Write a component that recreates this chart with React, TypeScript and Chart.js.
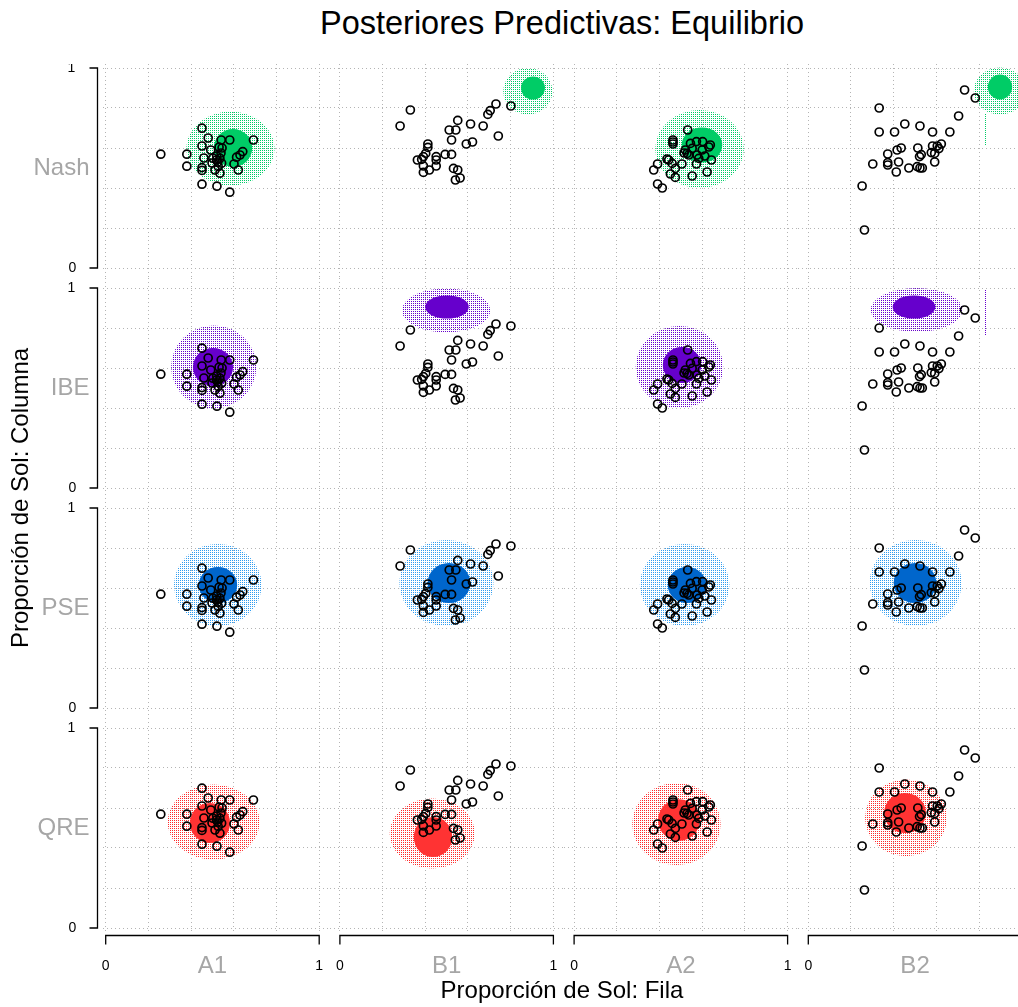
import React, { useEffect, useRef } from "react";
import { Chart, registerables } from "chart.js";

Chart.register(...registerables);

type XY = [number, number];
type Box = [number, number, number, number]; // xmin, xmax, ymin, ymax

const modelNames = ["Nash", "IBE", "PSE", "QRE"];
const gameNames = ["A1", "B1", "A2", "B2"];
const gridValues = [0, 0.2, 0.4, 0.6, 0.8, 1];

// Observed proportions (row player, column player) per game
const observedA1: XY[] = [
  [0.258, 0.569], [0.38, 0.569], [0.38, 0.509], [0.451, 0.699], [0.48, 0.65], [0.451, 0.61],
  [0.451, 0.502], [0.451, 0.488], [0.46, 0.55], [0.451, 0.419], [0.521, 0.409], [0.581, 0.379],
  [0.541, 0.64], [0.581, 0.64], [0.692, 0.64], [0.492, 0.59], [0.531, 0.604], [0.502, 0.549],
  [0.519, 0.54], [0.535, 0.549], [0.543, 0.524], [0.527, 0.507], [0.512, 0.49], [0.535, 0.474],
  [0.498, 0.525], [0.642, 0.582], [0.629, 0.565], [0.613, 0.554], [0.601, 0.52], [0.621, 0.49],
  [0.54, 0.575], [0.545, 0.6], [0.52, 0.56], [0.525, 0.53],
];
const observedB1: XY[] = [
  [0.33, 0.79], [0.282, 0.71], [0.552, 0.738], [0.612, 0.72], [0.671, 0.71], [0.512, 0.69],
  [0.543, 0.69], [0.523, 0.64], [0.592, 0.62], [0.621, 0.63], [0.742, 0.66], [0.693, 0.768],
  [0.704, 0.787], [0.731, 0.82], [0.801, 0.81], [0.412, 0.62], [0.412, 0.603], [0.402, 0.573],
  [0.391, 0.557], [0.363, 0.54], [0.383, 0.543], [0.391, 0.51], [0.391, 0.478], [0.419, 0.49],
  [0.451, 0.557], [0.451, 0.54], [0.451, 0.51], [0.493, 0.568], [0.523, 0.568], [0.532, 0.498],
  [0.552, 0.49], [0.563, 0.45], [0.541, 0.44],
];
const observedA2: XY[] = [
  [0.532, 0.69], [0.463, 0.64], [0.463, 0.63], [0.463, 0.62], [0.545, 0.623], [0.573, 0.632],
  [0.602, 0.632], [0.638, 0.615], [0.631, 0.605], [0.521, 0.59], [0.529, 0.573], [0.553, 0.598],
  [0.576, 0.565], [0.584, 0.548], [0.643, 0.54], [0.573, 0.52], [0.435, 0.545], [0.443, 0.54],
  [0.391, 0.52], [0.373, 0.49], [0.459, 0.523], [0.474, 0.498], [0.505, 0.52], [0.451, 0.47],
  [0.474, 0.453], [0.553, 0.46], [0.623, 0.48], [0.391, 0.42], [0.413, 0.4], [0.537, 0.565],
  [0.612, 0.56], [0.6, 0.59], [0.515, 0.575],
];
const observedB2: XY[] = [
  [0.732, 0.89], [0.782, 0.85], [0.704, 0.76], [0.332, 0.8], [0.332, 0.68], [0.404, 0.68],
  [0.452, 0.72], [0.523, 0.71], [0.582, 0.68], [0.663, 0.68], [0.372, 0.57], [0.416, 0.59],
  [0.435, 0.6], [0.513, 0.6], [0.529, 0.567], [0.521, 0.557], [0.582, 0.61], [0.604, 0.61],
  [0.623, 0.62], [0.612, 0.597], [0.576, 0.577], [0.592, 0.573], [0.592, 0.53], [0.302, 0.52],
  [0.372, 0.527], [0.372, 0.515], [0.423, 0.53], [0.412, 0.48], [0.471, 0.5], [0.51, 0.507],
  [0.523, 0.5], [0.534, 0.5], [0.252, 0.41], [0.263, 0.19],
];
const observedByGame = [observedA1, observedB1, observedA2, observedB2];

// Posterior predictive summaries per model and game (A1, B1, A2, B2):
// centre of the dense region, its half-widths, and the range of the sampled predictions
const nashCentre: XY[] = [[0.598, 0.598], [0.903, 0.898], [0.599, 0.615], [0.898, 0.903]];
const nashCore: XY[] = [[0.09, 0.095], [0.056, 0.058], [0.095, 0.088], [0.057, 0.062]];
const nashRange: Box[] = [[0.379, 0.793, 0.41, 0.78], [0.764, 0.994, 0.765, 0.998], [0.38, 0.795, 0.4, 0.79], [0.775, 1.02, 0.765, 1.0]];

const ibeCentre: XY[] = [[0.504, 0.607], [0.501, 0.907], [0.507, 0.615], [0.493, 0.905]];
const ibeCore: XY[] = [[0.094, 0.095], [0.102, 0.058], [0.09, 0.09], [0.1, 0.058]];
const ibeRange: Box[] = [[0.308, 0.707, 0.4, 0.815], [0.29, 0.704, 0.78, 1.0], [0.29, 0.7, 0.4, 0.81], [0.29, 0.72, 0.78, 1.0]];

const pseCentre: XY[] = [[0.526, 0.615], [0.512, 0.625], [0.531, 0.615], [0.502, 0.625]];
const pseCore: XY[] = [[0.09, 0.09], [0.1, 0.1], [0.09, 0.09], [0.1, 0.1]];
const pseRange: Box[] = [[0.32, 0.73, 0.41, 0.82], [0.28, 0.72, 0.41, 0.84], [0.31, 0.73, 0.41, 0.82], [0.29, 0.72, 0.41, 0.84]];

const qreCentre: XY[] = [[0.488, 0.523], [0.438, 0.457], [0.49, 0.54], [0.455, 0.573]];
const qreCore: XY[] = [[0.094, 0.1], [0.09, 0.1], [0.098, 0.104], [0.098, 0.1]];
const qreRange: Box[] = [[0.29, 0.72, 0.34, 0.715], [0.235, 0.634, 0.3, 0.65], [0.271, 0.685, 0.315, 0.725], [0.268, 0.651, 0.357, 0.74]];

// Thin column of isolated predictions in game B2 (x, y from, y to)
const nashTailB2: Box = [0.83, 0.83, 0.615, 0.775];
const ibeTailB2: Box = [0.83, 0.83, 0.765, 0.99];
const modelTails: (Box | null)[][] = [
  [null, null, null, nashTailB2],
  [null, null, null, ibeTailB2],
  [null, null, null, null],
  [null, null, null, null],
];

const modelCentre = [nashCentre, ibeCentre, pseCentre, qreCentre];
const modelCore = [nashCore, ibeCore, pseCore, qreCore];
const modelRange = [nashRange, ibeRange, pseRange, qreRange];
const coreColours = ["#00cc66", "#6600cc", "#0066cc", "#ff3333"];
const haloColours = ["#00cc66", "#6600cc", "#2f9cf0", "#ff2a2a"];

// Panel geometry (page pixels)
const X0 = 105.7;
const PITCH_X = 234.2;
const PW = 213.5;
const Y1 = 68;
const PITCH_Y = 220;
const PH = 200;
const GAP_X = PITCH_X - PW;
const GAP_Y = PITCH_Y - PH;
const FONT = '"Liberation Sans", Arial, Helvetica, sans-serif';

function cloudImage(pxX: number, pxY: number, centre: XY, core: XY, range: Box, colour: string, halo: string) {
  const [cx, cy] = centre;
  const [x0, x1, y0, y1] = range;
  const halfW = Math.ceil(Math.max(cx - x0, x1 - cx, core[0]) * pxX) + 2;
  const halfH = Math.ceil(Math.max(cy - y0, y1 - cy, core[1]) * pxY) + 2;
  const cv = document.createElement("canvas");
  cv.width = halfW * 2;
  cv.height = halfH * 2;
  const g = cv.getContext("2d")!;
  const tile = document.createElement("canvas");
  tile.width = 2;
  tile.height = 2;
  const tg = tile.getContext("2d")!;
  tg.fillStyle = halo;
  tg.fillRect(0, 0, 1, 1);
  g.fillStyle = g.createPattern(tile, "repeat")!;
  const hx = halfW + ((x0 + x1) / 2 - cx) * pxX;
  const hy = halfH - ((y0 + y1) / 2 - cy) * pxY;
  g.beginPath();
  g.ellipse(hx, hy, ((x1 - x0) / 2) * pxX, ((y1 - y0) / 2) * pxY, 0, 0, Math.PI * 2);
  g.fill();
  g.fillStyle = colour;
  g.beginPath();
  g.ellipse(halfW, halfH, core[0] * pxX, core[1] * pxY, 0, 0, Math.PI * 2);
  g.fill();
  return cv;
}

const panelAxes = {
  id: "panelAxes",
  beforeDatasetsDraw(chart: any) {
    chart.ctx.imageSmoothingEnabled = false;
  },
  afterDraw(chart: any, _args: any, opts: any) {
    const { ctx } = chart;
    const xs = chart.scales.x;
    const ys = chart.scales.y;
    const { row, col } = opts;
    ctx.save();
    ctx.strokeStyle = "#000";
    ctx.lineWidth = 1.3;
    if (col === 0) {
      const ax = Math.round(xs.getPixelForValue(0) - 9) + 0.5;
      const yt = ys.getPixelForValue(1);
      const yb = ys.getPixelForValue(0);
      ctx.beginPath();
      ctx.moveTo(ax - 8, yt);
      ctx.lineTo(ax, yt);
      ctx.lineTo(ax, yb);
      ctx.lineTo(ax - 8, yb);
      ctx.stroke();
      ctx.fillStyle = "#000";
      ctx.font = `14px ${FONT}`;
      ctx.textAlign = "center";
      ctx.textBaseline = "middle";
      ctx.fillText("1", ax - 26, yt);
      ctx.fillText("0", ax - 25, yb);
      ctx.fillStyle = "#a6a6a6";
      ctx.font = `24px ${FONT}`;
      ctx.textAlign = "right";
      ctx.fillText(modelNames[row], ax - 8, (yt + yb) / 2);
    }
    if (row === 3) {
      const ay = Math.round(ys.getPixelForValue(0) + 7) + 0.5;
      const xl = xs.getPixelForValue(0);
      const xr = xs.getPixelForValue(1);
      ctx.beginPath();
      ctx.moveTo(xl, ay + 9);
      ctx.lineTo(xl, ay);
      ctx.lineTo(xr, ay);
      ctx.lineTo(xr, ay + 9);
      ctx.stroke();
      ctx.fillStyle = "#000";
      ctx.font = `14px ${FONT}`;
      ctx.textAlign = "center";
      ctx.textBaseline = "middle";
      ctx.fillText("0", xl, ay + 31);
      ctx.fillText("1", xr, ay + 31);
      ctx.fillStyle = "#a6a6a6";
      ctx.font = `24px ${FONT}`;
      ctx.fillText(gameNames[col], (xl + xr) / 2, ay + 31);
    }
    ctx.restore();
  },
};

function Panel({ row, col }: { row: number; col: number }) {
  const ref = useRef<HTMLCanvasElement>(null);

  const dataLeft = X0 + col * PITCH_X;
  const dataTop = Y1 + row * PITCH_Y;
  const areaLeft = Math.round(col === 0 ? dataLeft - 3 : dataLeft - GAP_X / 2);
  const areaRight = Math.round(dataLeft + PW + GAP_X / 2);
  const areaTop = Math.round(row === 0 ? dataTop - 4 : dataTop - GAP_Y / 2);
  const areaBottom = Math.round(row === 3 ? dataTop + PH + 3 : dataTop + PH + GAP_Y / 2);
  const padL = col === 0 ? areaLeft : 0;
  const padB = row === 3 ? 60 : 0;
  const left = areaLeft - padL;
  const width = areaRight - left;
  const height = areaBottom - areaTop + padB;

  useEffect(() => {
    const xMin = (areaLeft - dataLeft) / PW;
    const xMax = (areaRight - dataLeft) / PW;
    const yMax = (dataTop + PH - areaTop) / PH;
    const yMin = (dataTop + PH - areaBottom) / PH;
    const centre = modelCentre[row][col];
    const tail = modelTails[row][col];
    const axisOpts = (min: number, max: number) => ({
      type: "linear" as const,
      min,
      max,
      bounds: "data" as const,
      afterBuildTicks: (s: any) => {
        s.ticks = gridValues.map((v) => ({ value: v }));
      },
      ticks: { display: false },
      grid: { color: "#b4b4b4", lineWidth: 1, drawTicks: false },
      border: { display: false, dash: [1, 3] },
    });
    const datasets: any[] = [
      {
        data: observedByGame[col].map(([x, y]) => ({ x, y })),
        order: 0,
        pointStyle: "circle",
        pointRadius: 4,
        pointBorderWidth: 1.7,
        pointBorderColor: "#000",
        pointBackgroundColor: "rgba(0,0,0,0)",
      },
      {
        data: [{ x: centre[0], y: centre[1] }],
        order: 2,
        pointRadius: 1,
        pointStyle: (ctx: any) => {
          const c = ctx.chart;
          const pxX = c.scales.x.getPixelForValue(1) - c.scales.x.getPixelForValue(0);
          const pxY = c.scales.y.getPixelForValue(0) - c.scales.y.getPixelForValue(1);
          return cloudImage(pxX, pxY, centre, modelCore[row][col], modelRange[row][col], coreColours[row], haloColours[row]);
        },
      },
    ];
    if (tail) {
      datasets.push({
        type: "line",
        data: [
          { x: tail[0], y: tail[2] },
          { x: tail[1], y: tail[3] },
        ],
        order: 1,
        showLine: true,
        borderColor: haloColours[row],
        borderWidth: 1,
        borderDash: [1, 1],
        pointRadius: 0,
      });
    }
    const chart = new Chart(ref.current!, {
      type: "scatter",
      data: { datasets },
      options: {
        animation: false,
        responsive: false,
        events: [],
        layout: { autoPadding: false, padding: { left: padL, bottom: padB, top: 0, right: 0 } },
        plugins: {
          legend: { display: false },
          tooltip: { enabled: false },
          panelAxes: { row, col },
        } as any,
        scales: { x: axisOpts(xMin, xMax), y: axisOpts(yMin, yMax) } as any,
      },
      plugins: [panelAxes],
    });
    return () => chart.destroy();
  }, [row, col]);

  return (
    <canvas
      ref={ref}
      width={width}
      height={height}
      style={{ position: "absolute", left, top: areaTop, width, height }}
    />
  );
}

export default function App() {
  const panels = [];
  for (let r = 0; r < 4; r++) for (let c = 0; c < 4; c++) panels.push(<Panel key={`${r}-${c}`} row={r} col={c} />);
  return (
    <div
      style={{
        position: "fixed",
        left: 0,
        top: 0,
        width: 1018,
        height: 1007,
        overflow: "hidden",
        background: "#fff",
        fontFamily: FONT,
        color: "#000",
      }}
    >
      <div style={{ position: "absolute", left: 62, width: 1000, top: 7, fontSize: 32.5, lineHeight: "32px", textAlign: "center", whiteSpace: "nowrap" }}>
        Posteriores Predictivas: Equilibrio
      </div>
      {panels}
      <div style={{ position: "absolute", left: 262, width: 600, top: 978, fontSize: 24, lineHeight: "24px", textAlign: "center", whiteSpace: "nowrap" }}>
        Proporción de Sol: Fila
      </div>
      <div
        style={{
          position: "absolute",
          left: 20 - 300,
          top: 498 - 12,
          width: 600,
          height: 24,
          fontSize: 24,
          lineHeight: "24px",
          textAlign: "center",
          whiteSpace: "nowrap",
          transform: "rotate(-90deg)",
        }}
      >
        Proporción de Sol: Columna
      </div>
    </div>
  );
}
